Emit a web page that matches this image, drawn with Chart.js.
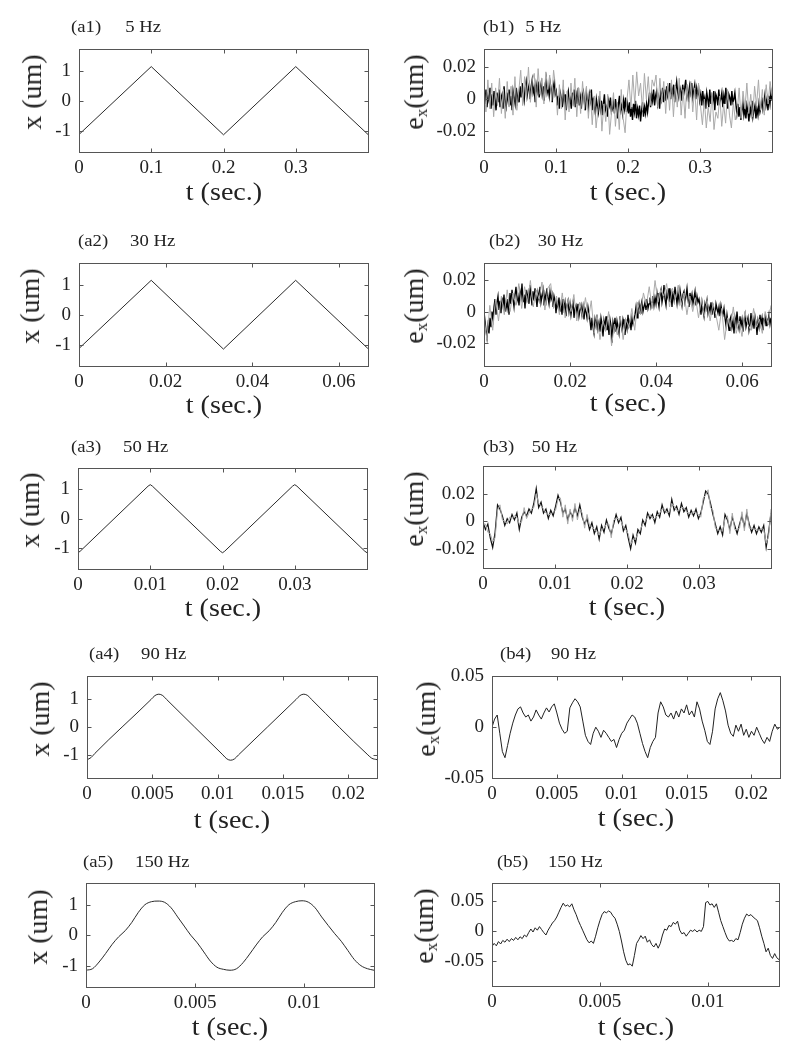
<!DOCTYPE html>
<html>
<head>
<meta charset="utf-8">
<script src="https://cdn.jsdelivr.net/npm/chart.js@4.4.1/dist/chart.umd.min.js"></script>
<style>
  body { margin: 0; background: #fff; width: 800px; height: 1057px; position: relative; overflow: hidden;
         font-family: "Liberation Serif", "DejaVu Serif", serif; color: #222; }
  canvas { position: absolute; }
  .ttl { position: absolute; font-size: 17px; white-space: nowrap; transform: translateY(-50%) scaleX(1.1); transform-origin: left center; }
  .xl { position: absolute; font-size: 26px; white-space: nowrap; transform: translate(-50%, -50%) scaleX(1.08); }
  .yl { position: absolute; font-size: 28px; white-space: nowrap; transform: translate(-50%, -50%) rotate(-90deg); }
  .yl sub { font-size: 17px; vertical-align: -4px; }
</style>
</head>
<body>
<script>
// tick values
const xTicks1 = [0, 0.1, 0.2, 0.3];
const xTicks2 = [0, 0.02, 0.04, 0.06];
const xTicks3 = [0, 0.01, 0.02, 0.03];
const xTicks4 = [0, 0.005, 0.01, 0.015, 0.02];
const xTicks5 = [0, 0.005, 0.01];
const yTicksX = [-1, 0, 1];
const yTicksE = [-0.02, 0, 0.02];
const yTicksE45 = [-0.05, 0, 0.05];

// (a) measured position x (um), read at the corners of the triangle waves
const a1T = [0, 0.1, 0.2, 0.3, 0.4];
const a1X = [-1.12, 1.13, -1.13, 1.13, -1.12];
const a2T = [0, 0.01667, 0.03333, 0.05, 0.06667];
const a2X = [-1.12, 1.14, -1.14, 1.14, -1.12];
const a3T = [0, 0.0003, 0.0097, 0.01, 0.0103, 0.0197, 0.02, 0.0203, 0.0297, 0.03, 0.0303, 0.0397, 0.04];
const a3X = [-1.15, -1.1, 1.1, 1.15, 1.1, -1.1, -1.15, -1.1, 1.1, 1.15, 1.1, -1.1, -1.15];
const a4T = [0, 0.0003, 0.0006, 0.0049, 0.0052, 0.0055, 0.0058, 0.0061, 0.0104, 0.0107, 0.011, 0.0113, 0.0116,
             0.016, 0.0163, 0.0166, 0.0169, 0.0172, 0.0215, 0.0218, 0.0222];
const a4X = [-1.15, -1.08, -0.93, 0.98, 1.12, 1.17, 1.12, 0.98, -0.98, -1.12, -1.17, -1.12, -0.98,
             0.98, 1.12, 1.17, 1.12, 0.98, -0.98, -1.1, -1.15];
const a5T = [0, 0.0003, 0.0006, 0.0009, 0.0012, 0.0015, 0.0018, 0.0021, 0.0024, 0.0027, 0.003, 0.0033, 0.0036,
             0.0039, 0.0042, 0.0045, 0.0048, 0.0051, 0.0054, 0.0057, 0.006, 0.0063, 0.0066, 0.0069, 0.0072,
             0.0075, 0.0078, 0.0081, 0.0084, 0.0087, 0.009, 0.0093, 0.0096, 0.0099, 0.0102, 0.0105, 0.0108,
             0.0111, 0.0114, 0.0117, 0.012, 0.0123, 0.0126, 0.0129, 0.0132];
const a5X = [-1.15, -1.1, -0.88, -0.6, -0.3, -0.05, 0.15, 0.42, 0.75, 1.0, 1.1, 1.12, 1.08,
             0.9, 0.6, 0.3, 0.0, -0.25, -0.55, -0.85, -1.05, -1.12, -1.15, -1.1, -0.9,
             -0.62, -0.32, -0.05, 0.15, 0.42, 0.75, 1.0, 1.1, 1.13, 1.08, 0.9, 0.6,
             0.32, 0.05, -0.2, -0.5, -0.8, -1.0, -1.1, -1.15];

// (b) tracking error e_x, uniformly sampled over the span, values in 1e-3 um
const b1Span = 0.4;
const b1Black = [4, -3, 6, -5, 2, -1, 7, -6, 3, -4, 5, 0, -7, 4, -2, 6, -5, 1, 3, -6, 8, -2, -5, 4, -1, 6, -4, 2, -7, 5, 1, -3, 7, -4, 3, -2,
  8, 1, 10, 3, -1, 7, 11, 2, 6, 9, 0, 8, 12, 4, 7, -2, 9, 5, 11, 1, 6, 10, 3, 8, -1, 9, 13, 4, 7, 2, 10, 6, -2, 8, 11, 3,
  5, -4, 2, -6, 4, 1, -5, 6, -2, 3, -7, 2, 5, -3, 0, -6, 4, -1, 6, -5, 2, -3, 7, -4, 1, -6, 3, 5, -2, -7, 4, 0, -5, 3, -1, 6,
  -7, 1, -5, -9, 0, -4, -8, 2, -6, -1, -10, -3, 3, -7, -5, -11, -1, -4, 1, -8, -6, -2, -9, 0, -5, -12, -3, 2, -7, -4, -9, -1, -6, 1, -8, -3,
  -9, -2, -11, -5, -13, -3, -8, -1, -12, -6, -10, -4, -14, -7, -2, -11, -5, -9, -3, -8,
  -2, 4, -5, 3, -1, 6, -4, 2, 5, -3, 1, -6, 4, 0, 7, -2,
  6, -1, 8, 2, 5, 10, 0, 7, 3, 9, -2, 6, 11, 4, 1, 8, 5, -1, 9, 3, 7, 12, 2, 6, -2, 8, 4, 10, 1, 5, 9, 0, 7, 3, 6, -1,
  3, -4, 5, -2, 1, -6, 4, 0, -5, 6, -3, 2, -1, 5, -7, 3, 1, -4, 6, -2, 0, 4, -5, 2, -3, 7, -1, -6, 3, 1, -4, 5, -2, 0, 4, -3,
  -9, -3, -11, -5, -13, -7, -2, -10, -6, -12, -4, -8, -14, -5, -9, -1, -11, -7, -4, -12, -6, -10, -3, -8,
  -5, 1, -6, -2, 3, -4, 0, -7, 2, -3, 4, -1];
const b1Grey = [9, -8, 12, -6, 10, -11, 7, -4, 13, -9, 6, -12, 11, -5, 8, -10, 14, -7, 5,
  18, -4, 14, 1, 20, -2, 12, 16, -5, 19, 3, 13, -3, 17, 6, 15, -1, 18, 8,
  -10, 9, -6, 12, -13, 5, -8, 10, -4, 13, -11, 7, -9, 11, -6, 8, -12, 4,
  -16, 2, -18, -6, 5, -20, -3, -14, 3, -22, -8, 4, -17, -2, -19, 6, -12, -21, 0,
  12, -6, 15, -3, 17, 2, 10, -7, 16, 0, 14, -4, 12, 8, 15, -5, 13, -2, 11,
  -9, 10, -7, 12, -11, 8, -5, 13, -10, 6, -12, 9, -6, 11, -8, 7, -13, 10, -4,
  -16, 0, -18, -5, -14, 4, -19, -8, -12, 2, -17, -3, -15, 6, -10, -18, -2, -13,
  -8, 7, -12, 5, -6, 10, -9, 3, -11, 8, -4, 12, -7, 6, -10, 9, -3, 11, 2];

const b2Span = 0.0667;
const b2Black = [0, -6, -12, -17, -9, -14, -4, -10, 0, -5, 3,
  8, -2, 6, 10, 1, 7, -1, 9, 4, 11, 0, 6, 2, 8, -2,
  12, 5, 14, 8, 3, 11, 16, 7, 10, 4, 13, 9, 18, 6, 11, 2, 14, 8, 12, 5, 17, 10, 4, 13, 7, 15, 9, 3, 12, 8, 16, 6, 10, 14, 4, 11, 7, 15, 9, 5, 13, 8, 11, 3, 10,
  7, -1, 6, 3, 9, 0, 5, -2, 8, 2, 6, -3, 4, 7, 0, 5, -2, 3, 6, -4, 2, 4, -1, 5, -3, 1, 4, -2, 3, -5, 2, 0, -4, 3, -1,
  -6, -12, -4, -10, -14, -5, -9, -2, -11, -7, -13, -4, -8, -16, -6, -10, -3, -12, -8, -15, -5, -9, -20, -7, -11, -4, -13, -6, -10, -14, -3, -9, -12, -5, -8, -15, -7, -11, -2, -9, -6, -12, -4, -8, -5,
  -2, 3, -4, 1, 5, -1, 4, 7, 0, 3, 6, 1, 8, 2, 5, 9, 3, 6, 10, 4,
  9, 5, 12, 7, 3, 11, 14, 6, 10, 17, 8, 4, 12, 9, 15, 6, 11, 3, 13, 8, 16, 10, 5, 12, 7, 14, 9, 4, 11, 13, 6, 10, 15, 8, 3, 12, 7, 11, 5, 9, 13, 4, 10, 6, 8,
  4, -2, 6, 1, -3, 5, 2, 7, -1, 3, 0, 6, -2, 4, 1, -4, 5, 2, -1, 3, -3, 4, 0, -2, 2,
  -4, -9, -2, -7, -12, -5, -3, -10, -6, -14, -4, -8, 0, -7, -11, -3, -9, -5, -13, -6, -2, -10, -7, -4, -12, -8, -1, -9, -5, -11, -3, -7, -15, -6, -10, -2, -8, -4, -12, -6, -3, -9, -5, -7, -2, -8, -4];
const b2Grey = [-4, -18, 4, -12, 8, -6, 10, -2,
  14, 0, 12, 4, 18, 2, 16, 6, 20, 3, 14, 8, 19, 1, 15,
  18, 2, 10, -2, 12, -4, 8, 0, 11, -6, 6, -3, 9, -5, 7,
  -14, -2, -18, -6, -12, 0, -22, -8, -15, -3, -18, -5, -10, 2, -12,
  6, -2, 12, 4, 16, 2, 20, 6, 14, 10, 18, 3, 15, 8, 17,
  4, 12, -2, 10, 0, 9, -4, 8, -3, 7, -6, 5, -2,
  -12, 2, -18, -4, -10, 3, -14, -6, -16, 0, -8, -12, 2, -10, -5, -14, 0, -8, 4];

const b3Span = 0.04;
const b3Black = [0, -6, -2, -12, -19, -8, 12, 9, 4, -3, 2, -1, 5, 1, 6, -6, 3, 7, 4, 9,
  6, 13, 24, 10, 14, 6, 9, 2, 8, 4, 11, 19, 14, 6, 9, 1, 7, 3, 10, 4,
  12, 3, -2, 2, -6, -1, -9, -4, -13, -3, -8, 1, -5, -9, -2, 5, -1, 3, -7, -3,
  -12, -20, -10, -16, -6, -9, 1, -3, 6, 2, 5, -1, 7, 3, 12, 6, 9, 4, 16, 8,
  11, 5, 13, 7, 10, 3, 8, 4, 9, 2, 6, 14, 22, 20, 13, 5, -2, -9, -4, -10,
  5, 1, -6, 3, -3, -9, -2, 4, -4, 6, -2, -8, -3, -9, -4, -8, -3, -19, -8, 6];
const b3Grey = [-3, -2, -8, -9, -15, -12, 8, 12, 1, 0, -2, 3, 2, 4, 3, -2, 0, 10, 2, 6,
  9, 10, 20, 13, 11, 9, 6, 5, 5, 7, 8, 16, 17, 3, 12, -2, 9, 0, 13, 1,
  9, 6, -5, 5, -3, -4, -6, -7, -10, -6, -5, -2, -2, -12, 1, 2, 2, 0, -4, -6,
  -9, -17, -13, -13, -9, -6, -2, 0, 3, 5, 2, 2, 4, 6, 9, 9, 6, 7, 13, 11,
  8, 8, 10, 10, 7, 6, 5, 7, 6, 5, 3, 17, 19, 23, 10, 8, -5, -6, -7, -7,
  2, 4, -9, 6, -6, -6, -5, 7, -7, 9, -5, -5, -6, -6, -7, -5, -6, -16, -11, 9];

const b4Span = 0.0222;
const b4Line = [0, 8, 12, -6, -24, -30, -18, -6, 4, 12, 18, 20, 14, 10, 12, 6, 10, 17, 12, 8,
  14, 19, 15, 20, 23, 14, 4, -2, -6, -4, 19, 24, 28, 25, 20, 6, -8, -14, -17, -6,
  0, -4, -10, -3, -6, -10, -14, -12, -20, -12, -6, -3, 4, 8, 12, 10, 4, -6, -16, -24,
  -30, -20, -14, -10, 14, 25, 20, 12, 10, 14, 8, 16, 10, 18, 14, 22, 12, 16, 10, 25,
  18, 6, -3, -14, -17, -4, 18, 28, 34, 26, 16, 2, -6, -9, 2, -4, 3, -8, -2, -10,
  -4, -8, 0, -6, -12, -16, -10, -14, -4, 3, -2, 0];

const b5Span = 0.0133;
const b5Line = [-25, -20, -24, -17, -21, -15, -18, -13, -17, -12, -15, -10, -14, -9, -12, -6, -9, -2, 4, -1,
  6, 2, 8, 3, -2, -6, 2, 8, 14, 18, 24, 32, 40, 47, 42, 44, 41, 46, 36, 28,
  18, 10, 2, -6, -14, -19, -16, -20, -8, 6, 18, 28, 33, 31, 34, 32, 26, 22, 12, 0,
  -16, -34, -48, -56, -54, -58, -40, -20, -14, -7, -12, -8, -18, -14, -22, -26, -20, -28, -20, -6,
  4, 2, 10, 8, 15, 12, 17, 2, -4, -2, -8, -3, 2, 0, 3, -1, 2, 0, 8, 48,
  50, 44, 46, 40, 46, 32, 18, 8, -2, -11, -16, -15, -17, -12, -14, -2, 12, 22, 29, 26,
  28, 24, 21, 18, 6, -8, -20, -34, -28, -40, -45, -37, -44, -47];

function pairs(ts, vs) {
  return ts.map((t, i) => ({ x: t, y: vs[i] }));
}
function sampled(span, vals) {
  return vals.map((v, i) => ({ x: span * i / (vals.length - 1), y: v * 0.001 }));
}

const lineA = '#2a2a2a';
const grey = '#aaaaaa';
const panels = [
  { tag: '(a1)', hz: '5 Hz', gap: 22, box: [79, 44, 368, 152], ttl: [71, 27], xl: 192, yx: 32, ylab: 'x',
    xMax: 0.4, yMin: -1.7, yMax: 1.7, xTicks: xTicks1, yTicks: yTicksX,
    sets: [{ data: pairs(a1T, a1X), color: lineA }] },
  { tag: '(b1)', hz: '5 Hz', gap: 10, box: [484, 44, 772, 152], ttl: [483, 27], xl: 192, yx: 415, ylab: 'e',
    xMax: 0.4, yMin: -0.033, yMax: 0.031, xTicks: xTicks1, yTicks: yTicksE,
    sets: [{ data: sampled(b1Span, b1Grey), color: grey }, { data: sampled(b1Span, b1Black), color: '#000', width: 1.4 }] },
  { tag: '(a2)', hz: '30 Hz', gap: 20, box: [79, 258, 368, 366], ttl: [78, 241], xl: 405, yx: 30, ylab: 'x',
    xMax: 0.0667, yMin: -1.7, yMax: 1.7, xTicks: xTicks2, yTicks: yTicksX,
    sets: [{ data: pairs(a2T, a2X), color: lineA }] },
  { tag: '(b2)', hz: '30 Hz', gap: 16, box: [484, 258, 771, 366], ttl: [489, 241], xl: 403, yx: 415, ylab: 'e',
    xMax: 0.0667, yMin: -0.035, yMax: 0.031, xTicks: xTicks2, yTicks: yTicksE,
    sets: [{ data: sampled(b2Span, b2Grey), color: grey }, { data: sampled(b2Span, b2Black), color: '#000', width: 1.3 }] },
  { tag: '(a3)', hz: '50 Hz', gap: 20, box: [78, 463, 367, 569], ttl: [71, 447], xl: 608, yx: 30, ylab: 'x',
    xMax: 0.04, yMin: -1.7, yMax: 1.7, xTicks: xTicks3, yTicks: yTicksX,
    sets: [{ data: pairs(a3T, a3X), color: lineA }] },
  { tag: '(b3)', hz: '50 Hz', gap: 16, box: [483, 461, 771, 568], ttl: [483, 447], xl: 607, yx: 415, ylab: 'e',
    xMax: 0.04, yMin: -0.034, yMax: 0.04, xTicks: xTicks3, yTicks: yTicksE,
    sets: [{ data: sampled(b3Span, b3Grey), color: grey }, { data: sampled(b3Span, b3Black), color: '#111', width: 1.2 }] },
  { tag: '(a4)', hz: '90 Hz', gap: 20, box: [87, 671, 377, 778], ttl: [89, 654], xl: 820, yx: 40, ylab: 'x',
    xMax: 0.0222, yMin: -1.8, yMax: 1.8, xTicks: xTicks4, yTicks: yTicksX,
    sets: [{ data: pairs(a4T, a4X), color: lineA, smooth: true }] },
  { tag: '(b4)', hz: '90 Hz', gap: 18, box: [492, 671, 780, 778], ttl: [500, 654], xl: 818, yx: 427, ylab: 'e',
    xMax: 0.0222, yMin: -0.05, yMax: 0.05, xTicks: xTicks4, yTicks: yTicksE45,
    sets: [{ data: sampled(b4Span, b4Line), color: '#222' }] },
  { tag: '(a5)', hz: '150 Hz', gap: 20, box: [86, 878, 374, 987], ttl: [83, 862], xl: 1027, yx: 38, ylab: 'x',
    xMax: 0.0132, yMin: -1.7, yMax: 1.7, xTicks: xTicks5, yTicks: yTicksX,
    sets: [{ data: pairs(a5T, a5X), color: lineA, smooth: true }] },
  { tag: '(b5)', hz: '150 Hz', gap: 18, box: [492, 878, 779, 986], ttl: [497, 862], xl: 1027, yx: 425, ylab: 'e',
    xMax: 0.0133, yMin: -0.091, yMax: 0.08, xTicks: xTicks5, yTicks: yTicksE45,
    sets: [{ data: sampled(b5Span, b5Line), color: '#222' }] }
];

// box round the plot area, with MATLAB-style inward ticks on all four sides
const frame = {
  id: 'frame',
  afterDatasetsDraw(chart) {
    const { ctx, chartArea: a, scales: { x, y } } = chart;
    const L = Math.round(a.left) + 0.5, R = Math.round(a.right) + 0.5;
    const T = Math.round(a.top) + 0.5, B = Math.round(a.bottom) + 0.5;
    ctx.save();
    ctx.strokeStyle = '#555';
    ctx.lineWidth = 1;
    ctx.beginPath();
    x.ticks.forEach(t => {
      const px = Math.round(x.getPixelForValue(t.value)) + 0.5;
      ctx.moveTo(px, B); ctx.lineTo(px, B - 4);
      ctx.moveTo(px, T); ctx.lineTo(px, T + 4);
    });
    y.ticks.forEach(t => {
      const py = Math.round(y.getPixelForValue(t.value)) + 0.5;
      ctx.moveTo(L, py); ctx.lineTo(L + 4, py);
      ctx.moveTo(R, py); ctx.lineTo(R - 4, py);
    });
    ctx.stroke();
    ctx.strokeRect(L, T, R - L, B - T);
    ctx.restore();
  }
};

const tickFont = { family: '"Liberation Serif", serif', size: 19 };

function addText(cls, html, left, top) {
  const d = document.createElement('div');
  d.className = cls;
  d.innerHTML = html;
  d.style.left = left + 'px';
  d.style.top = top + 'px';
  document.body.appendChild(d);
}

function makePanel(p) {
  const [l, t, r, b] = p.box;
  const padL = 64, padT = 14, padR = 14, padB = 32;
  const cv = document.createElement('canvas');
  cv.width = r - l + padL + padR;
  cv.height = b - t + padT + padB;
  cv.style.left = (l - padL) + 'px';
  cv.style.top = (t - padT) + 'px';
  document.body.appendChild(cv);

  new Chart(cv, {
    type: 'line',
    data: {
      datasets: p.sets.map(s => ({
        data: s.data,
        borderColor: s.color,
        borderWidth: s.width || 1,
        pointRadius: 0,
        fill: false,
        tension: 0,
        cubicInterpolationMode: s.smooth ? 'monotone' : 'default'
      }))
    },
    options: {
      responsive: false,
      animation: false,
      devicePixelRatio: 1,
      layout: { padding: { top: padT, right: padR, left: 0, bottom: 0 } },
      plugins: { legend: { display: false }, tooltip: { enabled: false } },
      scales: {
        x: {
          type: 'linear', min: 0, max: p.xMax,
          grid: { display: false, drawTicks: false }, border: { display: false },
          ticks: { font: tickFont, color: '#222', padding: 5, maxRotation: 0, autoSkip: false,
                   callback: v => String(v) },
          afterBuildTicks: s => { s.ticks = p.xTicks.map(v => ({ value: v })); },
          afterFit: s => { s.height = padB; }
        },
        y: {
          type: 'linear', min: p.yMin, max: p.yMax,
          grid: { display: false, drawTicks: false }, border: { display: false },
          ticks: { font: tickFont, color: '#222', padding: 8, autoSkip: false,
                   callback: v => String(v) },
          afterBuildTicks: s => { s.ticks = p.yTicks.map(v => ({ value: v })); },
          afterFit: s => { s.width = padL; }
        }
      }
    },
    plugins: [frame]
  });

  addText('ttl', p.tag + '<span style="margin-left:' + p.gap + 'px">' + p.hz + '</span>', p.ttl[0], p.ttl[1]);
  addText('xl', 't (sec.)', (l + r) / 2, p.xl);
  const ylab = p.ylab === 'x' ? 'x (um)' : 'e<sub>x</sub>(um)';
  addText('yl', ylab, p.yx, (t + b) / 2 - 6);
}

panels.forEach(makePanel);
</script>
</body>
</html>
